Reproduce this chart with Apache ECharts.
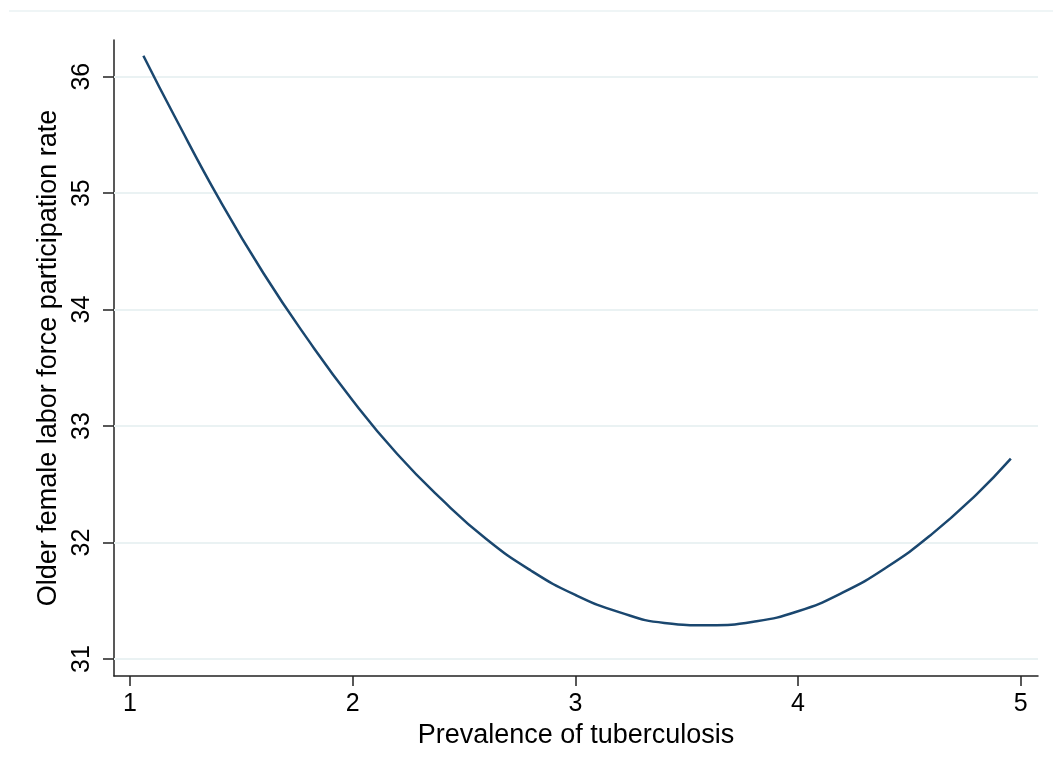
<!DOCTYPE html>
<html>
<head>
<meta charset="utf-8">
<script src="https://cdn.jsdelivr.net/npm/echarts@6/dist/echarts.min.js"></script>
<style>
  html, body { margin: 0; padding: 0; background: #ffffff; }
  #chart { width: 1053px; height: 778px; }
</style>
</head>
<body>
<div id="chart"></div>
<script>
// Fitted curve: prevalence of tuberculosis vs older female labor force participation rate
const prevalence = [1.06, 1.2, 1.4, 1.6, 1.8, 2.0, 2.2, 2.4, 2.6, 2.8, 3.0,
                    3.2, 3.4, 3.6, 3.8, 4.0, 4.2, 4.4, 4.6, 4.8, 4.956];
const participation = [36.18, 35.66, 34.95, 34.31, 33.74, 33.22, 32.76, 32.37, 32.03, 31.76, 31.55,
                       31.40, 31.31, 31.29, 31.32, 31.41, 31.57, 31.79, 32.07, 32.41, 32.72];
const xTicks = [1, 2, 3, 4, 5];
const yTicks = [31, 32, 33, 34, 35, 36];
const xTitle = 'Prevalence of tuberculosis';
const yTitle = 'Older female labor force participation rate';

const points = prevalence.map((x, i) => [x, participation[i]]);

const FONT = '"Liberation Sans", Arial, sans-serif';
const AXIS_COLOR = '#222222';
const GRID_COLOR = '#eaf2f3';

const chart = echarts.init(document.getElementById('chart'), null, { renderer: 'canvas' });

chart.setOption({
  animation: false,
  backgroundColor: '#ffffff',
  grid: { left: 114, right: 15, top: 40, bottom: 102, containLabel: false },
  graphic: [{
    type: 'line',
    shape: { x1: 9, y1: 11, x2: 1053, y2: 11 },
    style: { stroke: GRID_COLOR, lineWidth: 1.5 },
    silent: true
  }],
  xAxis: {
    type: 'value',
    min: 0.928,
    max: 5.078,
    name: xTitle,
    nameLocation: 'middle',
    nameGap: 44,
    nameTextStyle: { fontFamily: FONT, fontSize: 27, color: '#000000' },
    axisLine: { show: true, onZero: false, lineStyle: { color: AXIS_COLOR, width: 1.5 } },
    axisTick: { show: true, length: 10, customValues: xTicks, lineStyle: { color: AXIS_COLOR, width: 1.5 } },
    axisLabel: { customValues: xTicks, margin: 16, fontFamily: FONT, fontSize: 25, color: '#000000', showMinLabel: true, showMaxLabel: true },
    splitLine: { show: false }
  },
  yAxis: {
    type: 'value',
    min: 30.854,
    max: 36.315,
    name: yTitle,
    nameLocation: 'middle',
    nameGap: 46,
    nameRotate: 90,
    nameTextStyle: { fontFamily: FONT, fontSize: 27, color: '#000000' },
    axisLine: { show: true, onZero: false, lineStyle: { color: AXIS_COLOR, width: 1.5 } },
    axisTick: { show: true, length: 11, customValues: yTicks, lineStyle: { color: AXIS_COLOR, width: 1.5 } },
    axisLabel: { customValues: yTicks, rotate: 90, margin: 19, fontFamily: FONT, fontSize: 25, color: '#000000' },
    splitLine: { show: false }
  },
  series: [
    {
      // horizontal reference lines at the labelled y ticks, kept beneath the curve
      type: 'line',
      data: [],
      silent: true,
      z: 1,
      markLine: {
        z: 1,
        silent: true,
        symbol: 'none',
        label: { show: false },
        lineStyle: { color: GRID_COLOR, width: 2, type: 'solid' },
        data: yTicks.map(v => ({ yAxis: v }))
      }
    },
    {
      type: 'line',
      data: points,
      smooth: 0.5,
      showSymbol: false,
      z: 3,
      lineStyle: { color: '#1a476f', width: 2.5 }
    }
  ]
});
</script>
</body>
</html>
